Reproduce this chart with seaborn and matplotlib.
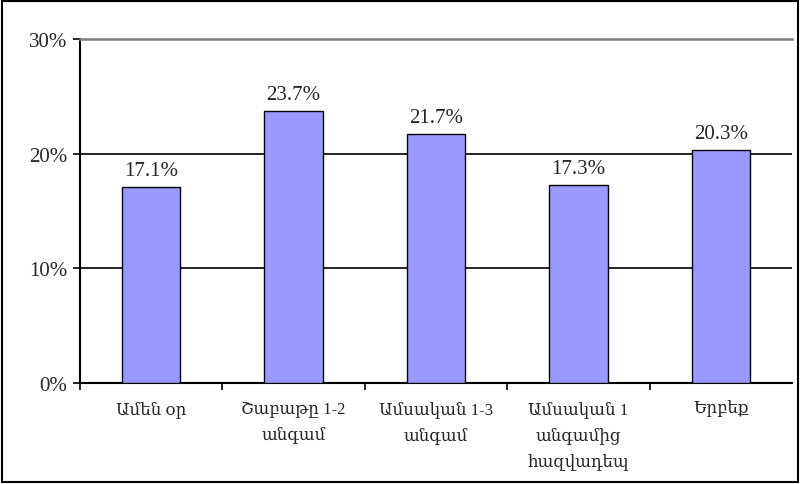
import matplotlib
matplotlib.use("Agg")
import matplotlib.pyplot as plt
import seaborn as sns
import pandas as pd
from matplotlib.patches import Rectangle
from matplotlib.ticker import FixedLocator

# данные с картинки
categories = ["Ամեն օր", "Շաբաթը 1-2\nանգամ", "Ամսական 1-3\nանգամ",
              "Ամսական 1\nանգամից\nհազվադեպ", "Երբեք"]
values = [17.1, 23.7, 21.7, 17.3, 20.3]
y_ticks = [0, 10, 20, 30]

sns.set_style("white")
plt.rcParams['font.family'] = ['Liberation Serif', 'DejaVu Serif']

df = pd.DataFrame({"cat": categories, "val": values})

fig = plt.figure(figsize=(8, 4.85), dpi=100)
ax = fig.add_axes([0.1, 0.208, 0.89, 0.71])

sns.barplot(data=df, x="cat", y="val", color="#9999ff", saturation=1,
            edgecolor="black", linewidth=1, width=0.41, ax=ax, zorder=3)

ax.set_ylim(0, 30)
ax.set_xlim(-0.5, len(categories) - 0.5)
ax.set_yticks(y_ticks)
ax.set_yticklabels([f"{t}%" for t in y_ticks], fontsize=15)
for t in y_ticks[1:3]:
    ax.axhline(t, color="black", lw=1.2, zorder=1)

for i, v in enumerate(values):
    ax.text(i, v + 0.6, f"{v:.1f}%", ha="center", va="bottom", fontsize=15)

ax.set_xticks(range(len(categories)))
ax.set_xticklabels(categories, fontsize=12, multialignment="center", va="top",
                   linespacing=1.75)
ax.tick_params(axis="x", which="major", length=0, pad=12)
ax.xaxis.set_minor_locator(FixedLocator([i - 0.5 for i in range(len(categories))]))
ax.tick_params(axis="x", which="minor", bottom=True, length=5, width=1.2,
               color="black", direction="out")
ax.tick_params(axis="y", left=True, length=5, width=1.2, color="black",
               direction="out", pad=4)
ax.set_xlabel("")
ax.set_ylabel("")

for s in ["left", "bottom"]:
    ax.spines[s].set_color("black")
    ax.spines[s].set_linewidth(1.5)
ax.spines["right"].set_visible(False)
ax.spines["top"].set_color("#808080")
ax.spines["top"].set_linewidth(1.8)

fig.patches.append(Rectangle((0.003, 0.004), 0.994, 0.992, transform=fig.transFigure,
                             fill=False, edgecolor="black", linewidth=1.5))

fig.savefig("out.png", dpi=100)
